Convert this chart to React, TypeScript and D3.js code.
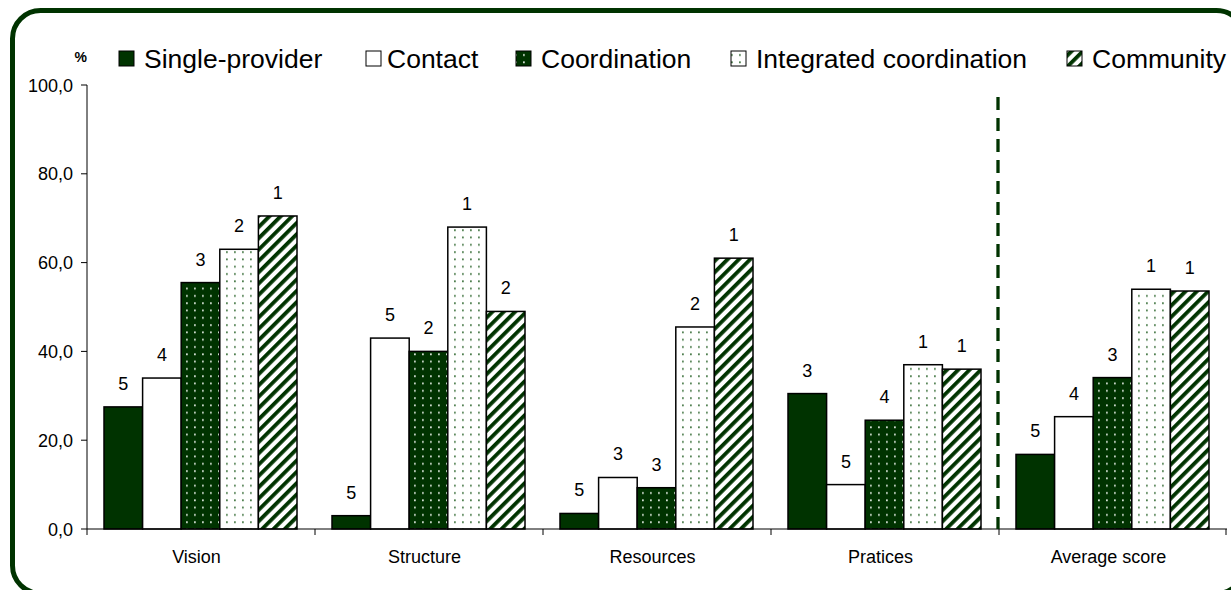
import React from "react";
import * as d3 from "d3";

// Dimensions of the primary-care model scores, per organisational model
const categories = ["Vision", "Structure", "Resources", "Pratices", "Average score"];
const seriesNames = ["Single-provider", "Contact", "Coordination", "Integrated coordination", "Community"];

const singleProvider = [27.5, 3.0, 3.5, 30.5, 16.8];
const contact = [34.0, 43.0, 11.6, 10.0, 25.3];
const coordination = [55.5, 40.0, 9.3, 24.5, 34.1];
const integrated = [63.0, 68.0, 45.5, 37.0, 54.0];
const community = [70.5, 49.0, 61.0, 36.0, 53.6];

// Rank of each model within a dimension (printed above the bars)
const ranksSingle = ["5", "5", "5", "3", "5"];
const ranksContact = ["4", "5", "3", "5", "4"];
const ranksCoord = ["3", "2", "3", "4", "3"];
const ranksIntegrated = ["2", "1", "2", "1", "1"];
const ranksCommunity = ["1", "2", "1", "1", "1"];

const yTicks = [0, 20, 40, 60, 80, 100];

const W = 1231;
const H = 590;
const GREEN = "#003300";
const FONT = "Arial, 'Liberation Sans', sans-serif";

const allValues = [singleProvider, contact, coordination, integrated, community];
const allRanks = [ranksSingle, ranksContact, ranksCoord, ranksIntegrated, ranksCommunity];
const fills = ["url(#solid)", "#ffffff", "url(#darkDots)", "url(#lightDots)", "url(#stripes)"];

export default function App() {
  const x0 = d3.scaleBand<string>().domain(categories).range([87, 1227]).padding(0);
  const x1 = d3
    .scaleBand<string>()
    .domain(seriesNames)
    .range([17, x0.bandwidth() - 18])
    .padding(0);
  const y = d3.scaleLinear().domain([0, 100]).range([529, 85]);
  const fmt = (v: number) => d3.format(".1f")(v).replace(".", ",");

  const legendItems = [
    { name: seriesNames[0], x: 119, tx: 144, fill: fills[0] },
    { name: seriesNames[1], x: 366, tx: 387, fill: fills[1] },
    { name: seriesNames[2], x: 516, tx: 541, fill: fills[2] },
    { name: seriesNames[3], x: 731, tx: 756, fill: fills[3] },
    { name: seriesNames[4], x: 1067, tx: 1092, fill: fills[4] },
  ];

  const dashX = x0("Average score")! - 1;

  return (
    <div style={{ position: "fixed", left: 0, top: 0 }}>
      <svg width={W} height={H} style={{ display: "block", fontFamily: FONT }}>
        <defs>
          <pattern id="solid" width="4" height="4" patternUnits="userSpaceOnUse">
            <rect width="4" height="4" fill={GREEN} />
          </pattern>
          <pattern id="darkDots" width="8" height="7.3" patternUnits="userSpaceOnUse">
            <rect width="8" height="7.3" fill={GREEN} />
            <rect x="3" y="3" width="1.8" height="1.8" fill="#d0dcd0" />
          </pattern>
          <pattern id="lightDots" width="8" height="7.3" patternUnits="userSpaceOnUse">
            <rect width="8" height="7.3" fill="#ffffff" />
            <rect x="3" y="3" width="1.8" height="1.8" fill="#4f7f4f" />
          </pattern>
          <pattern
            id="stripes"
            width="8"
            height="8"
            patternUnits="userSpaceOnUse"
            patternTransform="rotate(45)"
          >
            <rect width="8" height="8" fill="#ffffff" />
            <rect width="3.8" height="8" fill={GREEN} />
          </pattern>
        </defs>

        <rect width={W} height={H} fill="#ffffff" />

        {/* rounded frame */}
        <rect x={12.5} y={10.5} width={1232} height={583} rx={28} ry={28} fill="none" stroke={GREEN} strokeWidth={5} />

        {/* legend */}
        <text x={87} y={62} fontSize={14} fontWeight="bold" textAnchor="end" fill="#000">
          %
        </text>
        {legendItems.map((d) => (
          <g key={d.name}>
            <rect x={d.x} y={51} width={15} height={15} fill={d.fill} stroke="#000" strokeWidth={1} />
            <text x={d.tx} y={68} fontSize={26.5} fill="#000">
              {d.name}
            </text>
          </g>
        ))}

        {/* y axis */}
        <line x1={87} x2={87} y1={y(100)} y2={y(0)} stroke="#000" strokeWidth={1} />
        {yTicks.map((t) => (
          <g key={t}>
            <line x1={81} x2={87} y1={y(t)} y2={y(t)} stroke="#000" />
            <text x={73} y={y(t) + 6.5} fontSize={18} textAnchor="end" fill="#000">
              {fmt(t)}
            </text>
          </g>
        ))}

        {/* bars */}
        {categories.map((c, ci) => (
          <g key={c} transform={`translate(${x0(c)},0)`}>
            {seriesNames.map((s, si) => {
              const v = allValues[si][ci];
              const bx = x1(s)!;
              return (
                <g key={s}>
                  <rect
                    x={bx}
                    y={y(v)}
                    width={x1.bandwidth()}
                    height={y(0) - y(v)}
                    fill={fills[si]}
                    stroke="#000"
                    strokeWidth={1.5}
                  />
                  <text
                    x={bx + x1.bandwidth() / 2}
                    y={y(v) - 17}
                    fontSize={18}
                    textAnchor="middle"
                    fill="#000"
                  >
                    {allRanks[si][ci]}
                  </text>
                </g>
              );
            })}
          </g>
        ))}

        {/* x axis */}
        <line x1={87} x2={1227} y1={y(0)} y2={y(0)} stroke="#000" strokeWidth={1} />
        {categories.map((c) => (
          <g key={c}>
            <line x1={x0(c)} x2={x0(c)} y1={y(0)} y2={y(0) + 6} stroke="#000" />
            <text x={x0(c)! + x0.bandwidth() / 2 - 4.5} y={563} fontSize={18} textAnchor="middle" fill="#000">
              {c}
            </text>
          </g>
        ))}
        <line x1={1226} x2={1226} y1={y(0)} y2={y(0) + 6} stroke="#000" />

        {/* separator before the average */}
        <line
          x1={dashX}
          x2={dashX}
          y1={97}
          y2={y(0)}
          stroke={GREEN}
          strokeWidth={3.3}
          strokeDasharray="13 8"
        />
      </svg>
    </div>
  );
}
